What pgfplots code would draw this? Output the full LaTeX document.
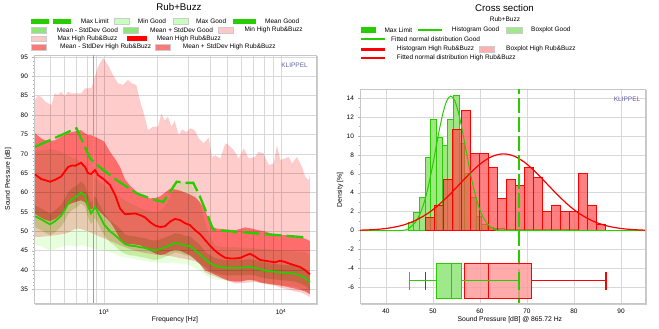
\documentclass[border=0pt]{standalone}
\usepackage{fontspec}
\setmainfont{Liberation Sans}
\usepackage{pgfplots}
\pgfplotsset{compat=1.18}
\usepackage{pgfplotstable}
\usepgfplotslibrary{fillbetween,statistics}

\definecolor{limgreen}{RGB}{40,205,0}
\definecolor{lgreen}{RGB}{232,255,222}
\definecolor{mgreen}{RGB}{220,236,188}
\definecolor{pinkb}{RGB}{255,204,204}
\definecolor{salmonb}{RGB}{255,136,136}
\definecolor{klip}{RGB}{95,95,165}
\definecolor{gridc}{RGB}{216,216,216}
\definecolor{legLG}{RGB}{200,255,190}
\definecolor{legMG}{RGB}{140,230,120}
\definecolor{legPK}{RGB}{255,200,200}
\definecolor{legSA}{RGB}{255,120,120}
\definecolor{histG}{RGB}{160,230,130}
\definecolor{histR}{RGB}{255,74,74}
\definecolor{boxG}{RGB}{160,232,140}
\definecolor{boxR}{RGB}{255,150,150}

\newcommand\lgfont{\fontsize{6.5}{7.5}\selectfont}
\newcommand\tkfont{\fontsize{6.5}{7.5}\selectfont}
\newcommand\lbfont{\fontsize{6.8}{8}\selectfont}
\newcommand\ttlfont{\fontsize{9.7}{11}\selectfont}

% frequency curves (Hz, dB)
\pgfplotstableread{
f mh mhp mhm mg mgp mgm maxg ming minh
407.5 64.7 75.3 54.5 53.9 56.7 51.1 70.5 46.4 48.5
440.7 63.5 74.0 53.5 53.1 55.9 50.3 70.8 46.2 48.6
464.2 63.2 73.5 53.0 52.5 55.3 49.7 71.0 45.6 48.7
495.4 62.8 73.3 52.6 51.8 54.6 49.0 71.2 45.1 48.8
528.7 63.3 73.5 53.2 52.6 55.4 49.8 71.0 45.4 49.0
571.6 64.1 74.4 54.4 54.0 56.8 51.2 70.5 46.0 49.2
602.1 65.5 74.9 55.6 55.6 58.4 52.8 70.0 46.2 49.4
626.1 66.6 75.3 56.8 57.2 60.0 54.4 69.5 46.4 49.6
659.5 67.0 75.6 57.3 58.3 61.1 55.5 69.0 46.3 50.2
685.8 66.9 75.8 57.5 58.7 61.5 55.9 68.8 46.0 50.6
713.1 67.3 76.0 57.8 59.3 62.1 56.5 68.3 46.2 50.7
741.5 67.7 76.1 58.0 60.0 62.8 57.2 67.5 46.4 50.6
781.1 66.6 75.3 57.5 59.1 61.9 56.3 66.0 46.2 50.2
812.2 65.0 74.9 56.0 56.5 59.3 53.7 65.2 46.0 50.0
844.5 64.8 74.8 55.6 54.6 57.4 51.8 64.8 45.8 49.6
889.6 65.8 74.4 56.5 56.3 59.1 53.5 64.0 45.3 49.2
925.0 64.5 74.0 55.5 54.8 57.6 52.0 63.2 45.2 48.8
1000 63.4 73.2 54.0 51.8 54.6 49.0 62.0 45.0 48.2
1081 61.9 70.5 52.5 50.0 52.8 47.2 60.8 44.7 47.5
1154 59.4 68.7 50.5 49.0 51.8 46.2 59.8 44.2 47.0
1231 55.9 66.6 48.0 47.8 50.6 45.0 58.9 43.6 46.4
1314 54.4 63.4 46.6 46.7 49.2 44.2 58.0 43.3 45.9
1402 54.5 61.8 46.6 46.3 48.8 43.8 57.3 43.1 45.4
1497 54.6 60.6 46.6 46.2 48.7 43.7 56.7 42.8 45.0
1597 54.2 59.5 46.4 45.9 48.4 43.4 56.0 42.6 44.7
1704 53.6 59.0 45.8 45.7 48.2 43.2 55.5 42.3 44.4
1819 52.4 58.5 45.0 45.3 47.8 42.8 55.2 42.1 44.2
1942 51.5 58.6 44.3 45.1 47.6 42.6 55.0 42.0 44.0
2072 51.1 59.0 43.9 45.4 47.9 42.9 55.3 41.9 43.9
2211 51.3 60.0 44.1 45.9 48.4 43.4 56.5 41.8 43.8
2360 52.5 61.0 44.8 46.4 48.9 43.9 58.5 41.9 43.6
2518 53.2 60.8 45.2 47.0 49.5 44.5 61.5 41.9 43.4
2688 52.9 60.5 45.0 46.8 49.3 44.3 62.5 41.7 43.1
2868 52.1 60.0 44.4 46.3 48.8 43.8 62.8 41.6 42.9
3061 51.6 59.5 43.8 46.2 48.7 43.7 62.5 41.2 42.6
3266 50.3 58.8 42.8 45.1 47.6 42.6 60.5 40.5 42.3
3486 49.3 57.5 41.6 44.0 46.5 41.5 57.0 39.8 41.5
3720 47.8 55.5 40.0 42.8 44.8 40.8 52.5 38.8 39.5
3971 46.3 52.0 39.4 41.8 43.8 39.8 48.5 38.0 38.8
4237 45.0 50.8 38.8 41.1 43.1 39.1 46.5 37.6 38.4
4522 44.0 50.6 38.2 40.8 42.8 38.8 46.0 37.4 37.9
4826 43.2 50.5 37.6 40.6 42.6 38.6 46.0 37.3 37.5
5151 43.0 50.4 37.2 40.6 42.6 38.6 46.0 37.2 37.0
5497 43.0 50.3 37.0 40.6 42.6 38.6 45.9 37.2 36.5
5867 43.1 50.6 37.0 40.6 42.6 38.6 45.8 37.2 36.6
6261 43.7 51.0 37.3 40.7 42.7 38.7 45.8 37.3 36.7
6682 44.2 50.8 37.5 40.8 42.8 38.8 45.7 37.3 36.8
7131 43.5 50.5 37.3 40.6 42.6 38.6 45.6 37.1 36.9
7611 42.6 50.2 36.8 40.2 42.2 38.2 45.5 36.8 36.7
8122 42.4 50.0 36.6 39.9 41.9 37.9 45.4 36.6 36.4
8668 42.2 49.5 36.4 39.7 41.7 37.7 45.3 36.4 36.2
9250 42.0 49.3 36.2 39.6 41.6 37.6 45.2 36.3 36.0
9871 42.4 49.1 36.0 39.4 41.4 37.4 45.1 36.2 35.5
10534 42.1 49.0 35.8 39.3 41.3 37.3 45.0 36.0 35.2
11243 41.6 48.9 35.5 39.2 41.2 37.2 44.9 35.9 34.9
11998 41.2 48.8 35.2 39.0 41.0 37.0 44.8 35.7 34.5
12804 40.8 48.5 34.9 38.6 40.6 36.6 44.7 35.3 34.3
13665 40.0 48.1 34.5 38.0 40.0 36.0 44.6 34.8 33.8
14583 38.9 47.5 33.8 36.9 38.9 34.9 44.0 33.8 33.0
}\curves

\pgfplotstableread{
f v
407.5 83.9
423.7 85.0
442.4 84.7
464.2 83.5
503.8 82.6
526.6 85.6
549.7 85.2
573.9 86.0
599.7 84.9
626.1 86.0
653.5 85.6
683.1 85.6
713.1 85.6
744.4 85.6
778.1 86.9
812.2 86.9
847.8 87.0
886.1 89.9
925.0 92.5
987.1 94.7
1053 92.9
1124 90.3
1200 88.2
1280 87.8
1367 89.1
1426 88.2
1522 87.8
1591 83.9
1698 79.6
1772 76.1
1892 77.0
2019 77.0
2108 80.4
2202 78.5
2299 79.6
2400 77.0
2508 78.5
2643 74.8
2759 76.3
2933 75.6
3073 76.6
3266 76.0
3428 74.0
3658 72.7
3904 74.2
4076 69.2
4254 69.6
4540 68.8
4845 72.7
5064 72.2
5404 71.0
5768 68.8
6156 71.4
6570 68.8
7131 69.2
7483 70.5
7986 70.0
8523 67.1
9094 67.5
9493 72.2
9909 68.4
10576 68.8
11054 69.2
11541 67.5
12313 69.2
13141 66.6
13719 64.0
14339 63.2
14583 64.9
}\maxhigh

\pgfplotstableread{
f v
407.5 71.8
699 76.6
834 68.8
949 66.5
1180 63.2
1530 59.8
1899 58.2
2163 57.6
2360 60.2
2575 62.8
2933 62.5
3195 62.5
3486 58.9
3884 53.7
4129 50.5
4333 50.3
6682 49.6
10300 48.9
14260 48.4
}\maxlimit

\begin{document}
\begin{tikzpicture}

% ---------------- left panel ----------------
\begin{axis}[
  at={(34pt,26pt)}, anchor=south west, scale only axis,
  width=282pt, height=248pt,
  xmode=log, xmin=402, xmax=15770, ymin=31.5, ymax=95.5,
  xtick={1000,10000}, xticklabels={10\textsuperscript{3},10\textsuperscript{4}},
  minor xtick={500,600,700,800,900,2000,3000,4000,5000,6000,7000,8000,9000},
  ytick={35,40,...,95}, minor y tick num=4,
  xmajorgrids, xminorgrids, ymajorgrids,
  grid style={gridc, line width=0.6pt},
  minor grid style={gridc, line width=0.6pt},
  tick align=outside, tick pos=left,
  major tick length=2.5pt, minor tick length=1.5pt,
  tick style={gray!60},
  ticklabel style={font=\tkfont},
  /pgf/number format/assume math mode=true,
  axis line style={gray!45, line width=0.8pt},
  xlabel={Frequency [Hz]}, ylabel={Sound Pressure [dB]},
  label style={font=\lbfont},
  xlabel style={at={(axis description cs:0.5,-0.0685)}, anchor=center},
  ylabel style={at={(axis description cs:-0.092,0.5)}, anchor=center},
]
\addplot[draw=none, forget plot, name path=maxh] table[x=f,y=v] {\maxhigh};
\addplot[draw=none, forget plot, name path=minh] table[x=f,y=minh] {\curves};
\addplot[draw=none, forget plot, name path=mhp] table[x=f,y=mhp] {\curves};
\addplot[draw=none, forget plot, name path=mhm] table[x=f,y=mhm] {\curves};
\addplot[draw=none, forget plot, name path=maxg] table[x=f,y=maxg] {\curves};
\addplot[draw=none, forget plot, name path=ming] table[x=f,y=ming] {\curves};
\addplot[draw=none, forget plot, name path=mgp] table[x=f,y=mgp] {\curves};
\addplot[draw=none, forget plot, name path=mgm] table[x=f,y=mgm] {\curves};
\addplot[fill=pinkb, draw=none, blend mode=multiply] fill between[of=maxh and minh];
\addplot[fill=salmonb, draw=none, blend mode=multiply] fill between[of=mhp and mhm];
\addplot[fill=lgreen, draw=none, blend mode=multiply] fill between[of=maxg and ming];
\addplot[fill=mgreen, draw=none, blend mode=multiply] fill between[of=mgp and mgm];
\addplot[gray!75, line width=0.7pt] coordinates {(865.72,31.5) (865.72,95.5)};
\addplot[red, line width=1.8pt] table[x=f,y=mh] {\curves};
\addplot[limgreen, line width=1.8pt] table[x=f,y=mg] {\curves};
\addplot[limgreen, line width=2.3pt, dash pattern=on 17pt off 5pt] table[x=f,y=v] {\maxlimit};
\node[font=\lgfont, text=klip] at (rel axis cs:0.924,0.957) {KLIPPEL};
\end{axis}

% ---------------- right panel ----------------
\begin{axis}[
  at={(360pt,26pt)}, anchor=south west, scale only axis,
  width=285pt, height=214pt,
  xmin=34.5, xmax=95.1, ymin=-7.65, ymax=14.95,
  xtick={40,50,...,90}, ytick={-6,-4,...,14}, minor y tick num=1,
  xmajorgrids, ymajorgrids,
  grid style={gridc, line width=0.6pt},
  tick align=outside, tick pos=left,
  major tick length=2.5pt, minor tick length=1.5pt,
  tick style={gray!60},
  ticklabel style={font=\tkfont},
  /pgf/number format/assume math mode=true,
  axis line style={gray!45, line width=0.8pt},
  xlabel={Sound Pressure [dB] @ 865.72 Hz}, ylabel={Density [\%]},
  label style={font=\lbfont},
  xlabel style={at={(axis description cs:0.526,-0.0794)}, anchor=center},
  ylabel style={at={(axis description cs:-0.07,0.528)}, anchor=center},
  boxplot/draw direction=x,
]
\addplot[ybar interval, fill=histG, draw=limgreen, line width=0.8pt] coordinates {
(44.74,0.85) (45.95,1.9) (47.14,3.55) (48.35,7.76) (49.56,11.7) (50.75,9.86) (51.97,9.0) (53.18,11.76) (54.37,14.3) (55.58,9.2) (56.79,6.0) (57.98,3.5) (59.19,1.5) (60.40,0.7) (61.61,0.3) (62.81,0.2) (64.02,0.2) (65.22,0.15) (66.43,0.15) (67.63,0.15) (68.84,0.12) (70.04,0.12) (71.25,0.12) (72.45,0.12) (73.66,0.12) (74.86,0.12) (76.07,0.12) (77.27,0.12) (78.48,0.12) (79.68,0.12) (80.89,0)};
\addplot[ybar interval, fill=histR, fill opacity=0.7, draw=red, line width=0.8pt] coordinates {
(48.50,1.4) (50.41,2.7) (52.32,5.37) (54.23,10.7) (56.13,12.7) (58.04,8.1) (59.95,8.1) (61.86,6.7) (63.77,3.37) (65.68,5.37) (67.59,4.74) (69.49,6.7) (71.40,5.65) (73.31,2.0) (75.22,2.7) (77.13,2.0) (79.04,2.0) (80.94,6.07) (82.85,2.7) (84.76,0.7) (86.67,0)};
\addplot[limgreen, line width=1pt, smooth] coordinates {
(34.5,0) (41.0,0) (44.2,0.06) (45.8,0.62) (46.6,1.13) (47.4,1.92) (48.2,3.07) (49.0,4.61) (49.8,6.50) (50.6,8.61) (51.4,10.72) (52.2,12.53) (53.0,13.76) (53.8,14.2) (54.6,13.76) (55.4,12.53) (56.2,10.72) (57.0,8.61) (57.8,6.50) (58.6,4.61) (59.4,3.07) (60.2,1.92) (61.0,1.13) (61.8,0.62) (63.4,0.06) (66.6,0) (95.1,0)};
\addplot[red, line width=1.2pt, smooth] coordinates {
(34.5,0.04) (37.1,0.09) (39.43,0.185) (41.75,0.356) (44.08,0.64) (46.4,1.10) (48.73,1.75) (51.05,2.63) (53.38,3.71) (55.7,4.91) (58.03,6.11) (60.35,7.15) (62.68,7.85) (65.0,8.1) (67.33,7.85) (69.65,7.15) (71.98,6.11) (74.3,4.91) (76.63,3.71) (78.95,2.63) (81.28,1.75) (83.6,1.10) (85.93,0.64) (88.25,0.356) (90.58,0.185) (92.9,0.09) (95.1,0.04)};
\addplot[draw=limgreen, line width=1.9pt, dash pattern=on 15pt off 4pt] coordinates {(68.4,-7.65) (68.4,14.95)};
\addplot[draw=red, fill=boxR, fill opacity=0.8, line width=1.2pt,
  boxplot prepared={draw position=-5.3, lower whisker=48.5, lower quartile=56.7,
  median=61.9, upper quartile=70.95, upper whisker=86.8, box extend=3.7, whisker extend=1.9}]
  coordinates {};
\addplot[draw=limgreen, fill=boxG, line width=1.2pt,
  boxplot prepared={draw position=-5.3, lower whisker=45.0, lower quartile=50.8,
  median=54.0, upper quartile=56.15, upper whisker=68.3, box extend=3.7, whisker extend=1.9}]
  coordinates {};
\node[font=\lgfont, text=klip] at (rel axis cs:0.937,0.953) {KLIPPEL};
\end{axis}

% frame shadows
\draw[gray!40, line width=1.3pt] (35pt,24.6pt) -- (317.4pt,24.6pt) -- (317.4pt,273pt);
\draw[gray!40, line width=1.3pt] (361pt,24.6pt) -- (646.4pt,24.6pt) -- (646.4pt,239pt);

% ---------------- titles ----------------
\node[font=\ttlfont] at (179pt,321.5pt) {Rub+Buzz};
\node[font=\ttlfont] at (504.5pt,320.7pt) {Cross section};
\node[font=\lgfont] at (505pt,310pt) {Rub+Buzz};

% ---------------- left legend ----------------
\begin{scope}[every node/.style={font=\lgfont, anchor=west, inner sep=0pt}]
% row 1
\fill[limgreen] (31pt,305.3pt) rectangle (49.3pt,310.1pt);
\fill[limgreen] (52.7pt,305.3pt) rectangle (71pt,310.1pt);
\node at (80.7pt,307.7pt) {Max Limit};
\filldraw[fill=legLG, draw=gray!40, line width=0.4pt] (114.3pt,304.9pt) rectangle (129.3pt,310.5pt);
\node at (137.7pt,307.7pt) {Min Good};
\filldraw[fill=legLG, draw=gray!40, line width=0.4pt] (172.7pt,304.9pt) rectangle (187.7pt,310.5pt);
\node at (196pt,307.7pt) {Max Good};
\fill[limgreen] (232.7pt,305.3pt) rectangle (256pt,310.1pt);
\node at (265pt,307.7pt) {Mean Good};
% row 2
\filldraw[fill=legMG, draw=gray!40, line width=0.4pt] (31pt,296.2pt) rectangle (46pt,301.8pt);
\node at (56.7pt,299pt) {Mean - StdDev Good};
\filldraw[fill=legMG, draw=gray!40, line width=0.4pt] (123.3pt,296.2pt) rectangle (138.3pt,301.8pt);
\node at (150pt,299pt) {Mean + StdDev Good};
\filldraw[fill=legPK, draw=gray!40, line width=0.4pt] (217.7pt,296.2pt) rectangle (232.7pt,301.8pt);
\node at (244.3pt,299pt) {Min High Rub\&Buzz};
% row 3
\filldraw[fill=legPK, draw=gray!40, line width=0.4pt] (31pt,287.5pt) rectangle (46pt,293.1pt);
\node at (57.3pt,290.3pt) {Max High Rub\&Buzz};
\fill[red] (126.7pt,287.9pt) rectangle (146.7pt,292.7pt);
\node at (156.7pt,290.3pt) {Mean High Rub\&Buzz};
% row 4
\filldraw[fill=legSA, draw=gray!40, line width=0.4pt] (31pt,279.2pt) rectangle (46pt,284.8pt);
\node at (60pt,282pt) {Mean - StdDev High Rub\&Buzz};
\filldraw[fill=legSA, draw=gray!40, line width=0.4pt] (155pt,279.2pt) rectangle (170pt,284.8pt);
\node at (182.7pt,282pt) {Mean + StdDev High Rub\&Buzz};

% ---------------- right legend ----------------
\fill[limgreen] (360.7pt,296.2pt) rectangle (375.7pt,301.8pt);
\node at (384.3pt,299pt) {Max Limit};
\draw[limgreen, line width=2.7pt] (418.3pt,299pt) -- (441.7pt,299pt);
\node at (451.7pt,299pt) {Histogram Good};
\filldraw[fill=boxG, draw=gray!40, line width=0.4pt] (506pt,296.2pt) rectangle (521.7pt,301.8pt);
\node at (531pt,299pt) {Boxplot Good};
\draw[limgreen, line width=2.7pt] (360.7pt,290pt) -- (385pt,290pt);
\node at (391pt,290pt) {Fitted normal distribution Good};
\draw[red, line width=2.7pt] (360.7pt,279.7pt) -- (385pt,279.7pt);
\node at (396.7pt,279.7pt) {Histogram High Rub\&Buzz};
\filldraw[fill=legPK!70!legSA, draw=gray!40, line width=0.4pt] (479.3pt,276.9pt) rectangle (494.3pt,282.5pt);
\node at (506pt,279.7pt) {Boxplot High Rub\&Buzz};
\draw[red, line width=2.7pt] (360.7pt,271pt) -- (385pt,271pt);
\node at (396.7pt,271pt) {Fitted normal distribution High Rub\&Buzz};
\end{scope}

\pgfresetboundingbox
\useasboundingbox (0,0) rectangle (659pt,329pt);
\end{tikzpicture}
\end{document}
